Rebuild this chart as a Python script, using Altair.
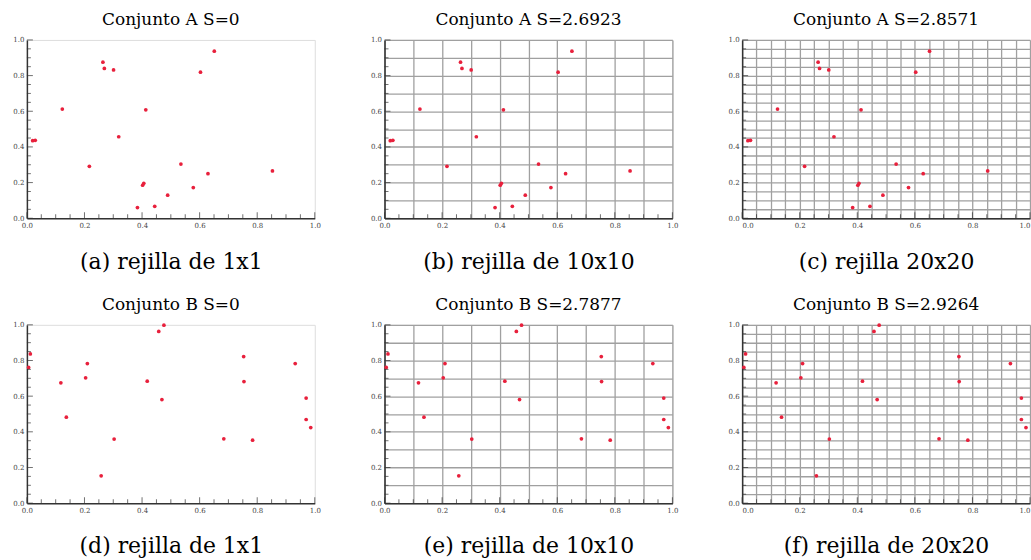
import altair as alt
import pandas as pd

# ---- data ----
A_X = [0.020, 0.029, 0.123, 0.217, 0.264, 0.269, 0.301, 0.319, 0.384, 0.402,
       0.406, 0.413, 0.444, 0.489, 0.535, 0.578, 0.603, 0.629, 0.651, 0.853]
A_Y = [0.435, 0.437, 0.612, 0.291, 0.875, 0.840, 0.832, 0.457, 0.060, 0.185,
       0.196, 0.608, 0.067, 0.129, 0.304, 0.172, 0.819, 0.250, 0.937, 0.265]

B_X = [0.006, 0.012, 0.118, 0.137, 0.204, 0.210, 0.258, 0.303, 0.418, 0.458,
       0.469, 0.476, 0.684, 0.753, 0.754, 0.784, 0.932, 0.970, 0.970, 0.986]
B_Y = [0.761, 0.837, 0.675, 0.482, 0.703, 0.783, 0.153, 0.359, 0.684, 0.963,
       0.581, 0.998, 0.361, 0.822, 0.682, 0.353, 0.783, 0.589, 0.469, 0.424]

TITLES_A = ["Conjunto A S=0", "Conjunto A S=2.6923", "Conjunto A S=2.8571"]
TITLES_B = ["Conjunto B S=0", "Conjunto B S=2.7877", "Conjunto B S=2.9264"]
CAPTIONS_A = ["(a) rejilla de 1x1", "(b) rejilla de 10x10", "(c) rejilla 20x20"]
CAPTIONS_B = ["(d) rejilla de 1x1", "(e) rejilla de 10x10", "(f) rejilla de 20x20"]

MAJOR_TICKS = [0.0, 0.2, 0.4, 0.6, 0.8, 1.0]
MINOR_TICKS = [0.05, 0.1, 0.15, 0.25, 0.3, 0.35, 0.45, 0.5, 0.55, 0.65, 0.7,
               0.75, 0.85, 0.9, 0.95]
GRID_10 = [0.0, 0.1, 0.2, 0.3, 0.4, 0.5, 0.6, 0.7, 0.8, 0.9, 1.0]
GRID_20 = [0.0, 0.05, 0.1, 0.15, 0.2, 0.25, 0.3, 0.35, 0.4, 0.45, 0.5, 0.55,
           0.6, 0.65, 0.7, 0.75, 0.8, 0.85, 0.9, 0.95, 1.0]

W, H = 289, 179
SERIF = "DejaVu Serif"
DOT = "#e8203c"
AXC = "#333333"


def panel(xs, ys, title, caption, grid_vals, flush=False):
    sc = alt.Scale(domain=[0, 1], nice=False, zero=False)
    if grid_vals is None:
        vals = MAJOR_TICKS
        grid = False
    else:
        vals = grid_vals
        grid = True
    label_expr = "abs(datum.value*5 - round(datum.value*5)) < 0.001 ? format(datum.value, '.1f') : ''"
    common = dict(values=vals, grid=grid, gridColor="#a0a0a0", gridWidth=1.3,
                  tickSize=0, labelExpr=label_expr, labelFont=SERIF,
                  labelFontSize=7, labelColor="#444444", labelPadding=3,
                  domainColor=AXC, domainWidth=1.5)
    xaxis = alt.Axis(title=caption, titleFont=SERIF, titleFontSize=22,
                     titleFontWeight="normal", titleColor="black",
                     titlePadding=23, labelFlush=flush, **common)
    yaxis = alt.Axis(title=None, **common)

    pts = pd.DataFrame({"x": xs, "y": ys})
    points = alt.Chart(pts).mark_circle(size=14, color=DOT, opacity=1).encode(
        x=alt.X("x:Q", scale=sc, axis=xaxis),
        y=alt.Y("y:Q", scale=sc, axis=yaxis),
    )
    layers = [points]
    for vals_t, sz in ((MAJOR_TICKS, 6), (MINOR_TICKS, 4)):
        layers.append(alt.Chart(pd.DataFrame({"x": vals_t})).mark_tick(
            orient="vertical", color=AXC, thickness=1, size=sz, yOffset=-sz / 2).encode(
            x=alt.X("x:Q", scale=sc, axis=xaxis), y=alt.value(H)))
        layers.append(alt.Chart(pd.DataFrame({"y": vals_t})).mark_tick(
            orient="horizontal", color=AXC, thickness=1, size=sz, xOffset=sz / 2).encode(
            y=alt.Y("y:Q", scale=sc, axis=yaxis), x=alt.value(0)))
    return alt.layer(*layers).properties(
        width=W, height=H,
        title=alt.TitleParams(title, font=SERIF, fontSize=17, fontWeight="normal",
                              color="black", offset=7, anchor="middle"))


grids = [None, GRID_10, GRID_20]
row1 = alt.hconcat(*[panel(A_X, A_Y, TITLES_A[i], CAPTIONS_A[i], grids[i], flush=(i == 2))
                     for i in range(3)], spacing=48)
row2 = alt.hconcat(*[panel(B_X, B_Y, TITLES_B[i], CAPTIONS_B[i], grids[i], flush=(i == 2))
                     for i in range(3)], spacing=48)

chart = alt.vconcat(row1, row2, spacing=22).properties(
    padding={"left": 12, "top": 9, "right": 0, "bottom": 0}
).configure_view(stroke="#9a9a9a", strokeWidth=1.5).configure(background="white")

chart.save("out.html", embed_options={"renderer": "svg", "actions": False})
